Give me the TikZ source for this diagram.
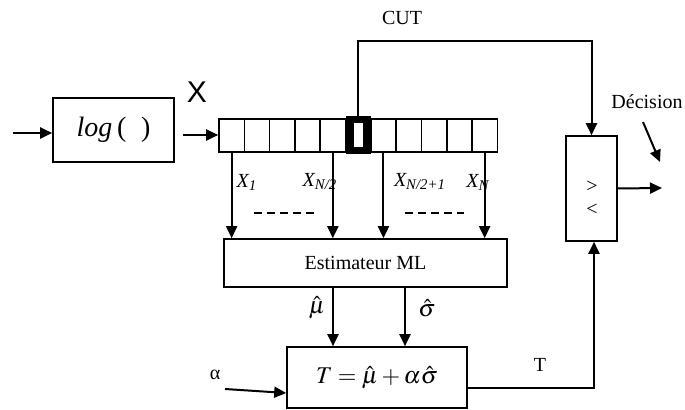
\documentclass[tikz,border=0pt]{standalone}
\usepackage{mathptmx}
\usepackage{fontspec}
\setmainfont{Liberation Serif}
\setsansfont{Liberation Sans}
\usetikzlibrary{arrows.meta,calc}
\newcommand{\xs}[1]{\textit{X\textsubscript{#1}}}

\begin{document}
\begin{tikzpicture}[x=0.5pt,y=-0.5pt,
  sig/.style={line width=1pt,-{Triangle[length=6pt,width=5.5pt]}},
  blk/.style={draw,line width=0.8pt,inner sep=0pt},
  cell/.style={blk,minimum width=12.65pt,minimum height=16.5pt}]
  \useasboundingbox (0,0) rectangle (685,410);
  \node[blk,minimum width=60.5pt,minimum height=32pt] (logb) at (113.5,130)
    {\fontsize{14}{16}\selectfont\textit{log}\,( \;)};
  \foreach \i in {1,...,11} \node[cell] (c\i) at ({219+25.3*(\i-0.5)},135.5) {};
  \draw[line width=3.7pt] (350,119.5) rectangle (367,150.5);   % the CUT cell
  \node[blk,minimum width=141.5pt,minimum height=24pt] (est) at (365.5,263) {Estimateur ML};
  \node[blk,minimum width=90pt,minimum height=30.5pt] (tb) at (377,377.5)
    {\fontsize{12}{14}\selectfont$T=\hat{\mu}+\alpha\hat{\sigma}$};
  \node[blk,minimum width=25.5pt,minimum height=52.5pt] (cmp) at (591.5,188.5) {};
  \node (gt) at (592,187) {>};
  \node (lt) at (592,210) {<};
  \coordinate (in) at (13,133);
  \coordinate (logout) at (183,135);
  \coordinate (cutrow) at (0,41);
  \coordinate (ain) at (225,389);
  \coordinate (dec) at (662,188);
  \coordinate (da) at (643,122);
  \coordinate (db) at (660,162);
  \draw[sig] (in) -- (logb.west |- in);
  \draw[sig] (logout) -- (c1.west |- logout);
  \node[font=\sffamily\fontsize{15}{17}\selectfont] (xl) at (197,92) {X};
  \foreach \i in {1,5,7,11} \draw[sig] (c\i.south) -- (c\i.south |- est.north);
  \node (x1) at (247,182) {\xs{1}};
  \node (x2) at (320,182) {\xs{N/2}};
  \node (x3) at (420,182) {\xs{N/2+1}};
  \node (x4) at (478,182) {\xs{N}};
  \draw[line width=0.75pt,dash pattern=on 4pt off 2.5pt] (254,213) -- (314,213);
  \draw[line width=0.75pt,dash pattern=on 4pt off 2.5pt] (405,213) -- (464,213);
  \draw[sig] (est.south -| 333,0) -- (tb.north -| 333,0);
  \draw[sig] (est.south -| 405,0) -- (tb.north -| 405,0);
  \node[font=\large] (mu) at (317,308) {$\hat{\mu}$};
  \node[font=\large] (sg) at (427,308) {$\hat{\sigma}$};
  \node (al) at (215,375) {α};
  \draw[sig] (ain) -- ($(tb.west)+(0,15.5)$);
  \draw[sig] ($(tb.east)+(0,10.5)$) -| ($(cmp.south)+(2.5,0)$);
  \node (tl) at (540,365) {T};
  \draw[sig] (c6.north) -- (c6.north |- cutrow) -| (cmp.north);
  \node (cut) at (402,18) {CUT};
  \draw[sig] (cmp.east) -- (dec);
  \node (decl) at (647,102) {Décision};
  \draw[sig] (da) -- (db);
\end{tikzpicture}
\end{document}
